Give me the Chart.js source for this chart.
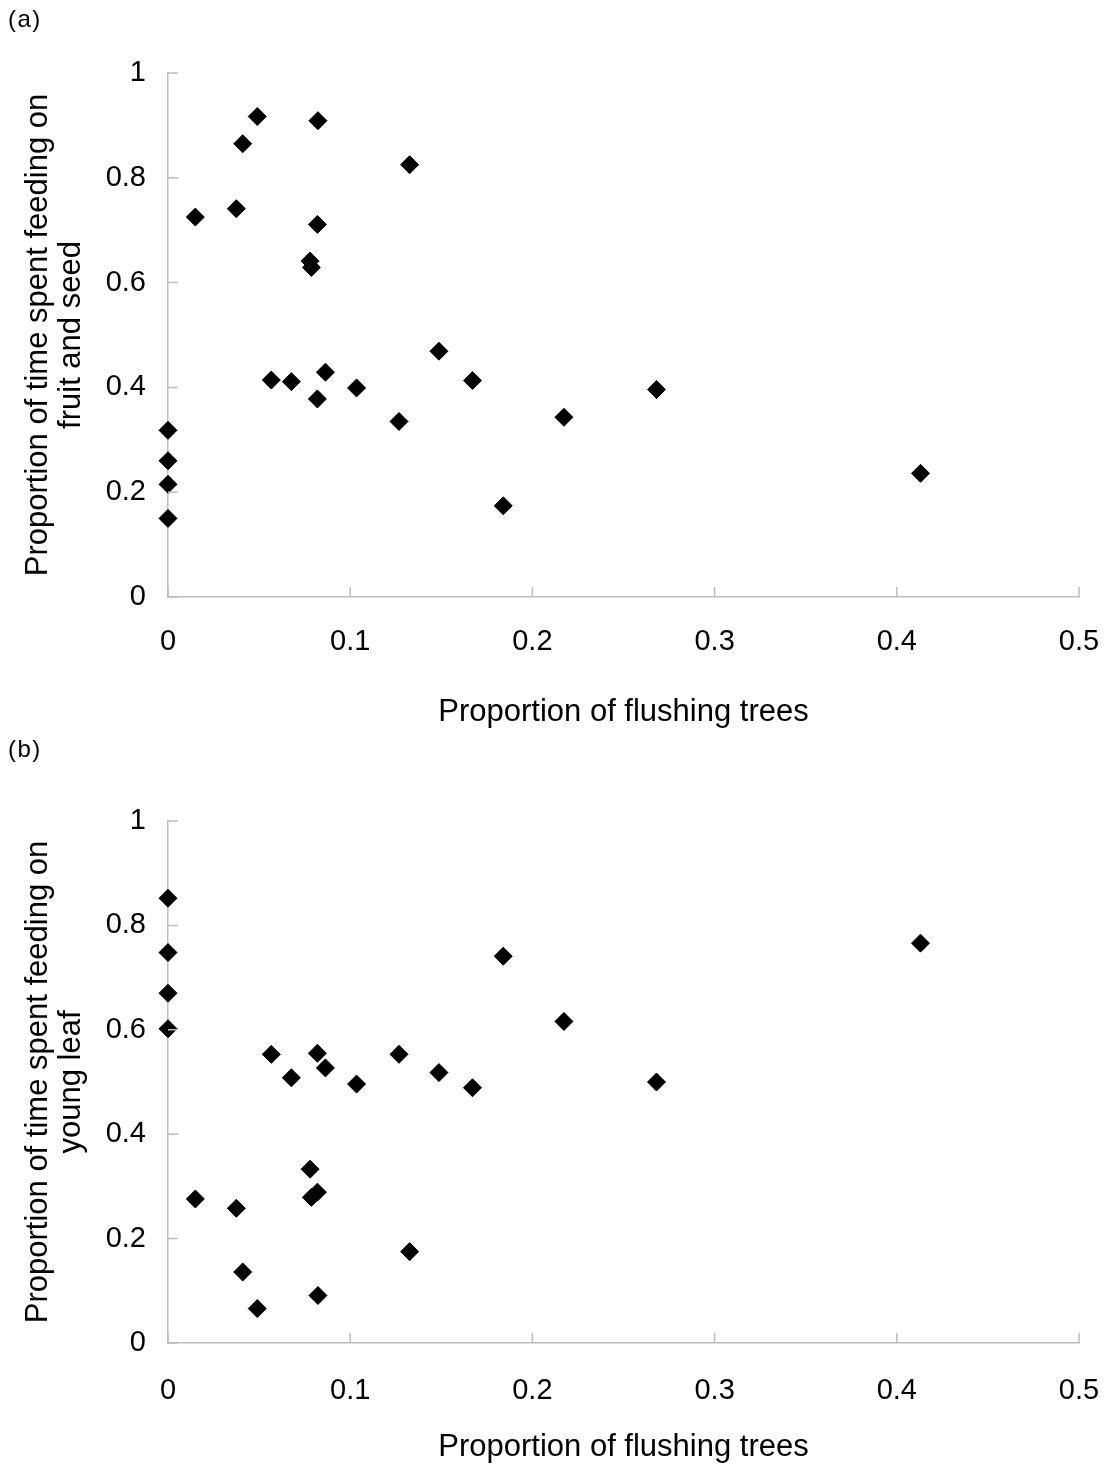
<!DOCTYPE html>
<html>
<head>
<meta charset="utf-8">
<script src="https://cdn.jsdelivr.net/npm/chart.js@4"></script>
<style>
  html, body { margin: 0; padding: 0; overflow: hidden; background: #fff; font-family: "Liberation Sans", Arial, sans-serif; }
  .panel { position: relative; width: 1110px; height: 735px; }
  .panel canvas { display: block; }
  .tag { position: absolute; left: 8px; font-size: 24px; letter-spacing: 1.5px; color: #000; }
</style>
</head>
<body>
<div class="panel">
  <div class="tag" style="top: 5px;">(a)</div>
  <canvas id="chartA" width="1110" height="735"></canvas>
</div>
<div class="panel">
  <div class="tag" style="top: 0px;">(b)</div>
  <canvas id="chartB" width="1110" height="735"></canvas>
</div>
<script>
// proportion of flushing trees (shared by both panels)
const flushingTrees = [
  0, 0, 0, 0, 0.015, 0.0375, 0.041, 0.049, 0.0567, 0.0677, 0.078, 0.0787,
  0.082, 0.082, 0.0823, 0.0864, 0.1035, 0.1268, 0.1326, 0.1487, 0.1671,
  0.184, 0.2173, 0.2681, 0.413,
];
// (a) proportion of time feeding on fruit and seed
const fruitSeed = [
  0.318, 0.26, 0.215, 0.15, 0.725, 0.741, 0.865, 0.917, 0.414, 0.411, 0.641,
  0.629, 0.378, 0.711, 0.909, 0.429, 0.399, 0.335, 0.825, 0.469, 0.413,
  0.174, 0.343, 0.396, 0.236,
];
// (b) proportion of time feeding on young leaf
const youngLeaf = [
  0.602, 0.67, 0.748, 0.852, 0.276, 0.258, 0.136, 0.066, 0.553, 0.508, 0.333,
  0.279, 0.555, 0.289, 0.091, 0.527, 0.496, 0.553, 0.175, 0.518, 0.489,
  0.741, 0.616, 0.5, 0.766,
];
const xTicks = [0, 0.1, 0.2, 0.3, 0.4, 0.5];
const xTickLabels = ["0", "0.1", "0.2", "0.3", "0.4", "0.5"];
const yTicks = [0, 0.2, 0.4, 0.6, 0.8, 1];
const yTickLabels = ["0", "0.2", "0.4", "0.6", "0.8", "1"];

const axisGrey = "#bdbdbd";
const fontFamily = "'Liberation Sans', Arial, sans-serif";

// Excel-style short tick marks pointing into the plot
const innerTicks = {
  id: "innerTicks",
  afterDraw(chart) {
    const ctx = chart.ctx;
    const area = chart.chartArea;
    const xs = chart.scales.x;
    const ys = chart.scales.y;
    ctx.save();
    ctx.strokeStyle = axisGrey;
    ctx.lineWidth = 1.5;
    ctx.beginPath();
    xs.ticks.forEach((t) => {
      const px = xs.getPixelForValue(t.value);
      ctx.moveTo(px, area.bottom);
      ctx.lineTo(px, area.bottom - 10);
    });
    ys.ticks.forEach((t) => {
      const py = ys.getPixelForValue(t.value);
      ctx.moveTo(area.left, py);
      ctx.lineTo(area.left + 10, py);
    });
    ctx.stroke();
    ctx.restore();
  },
};

function makePanel(canvasId, yValues, yTitle, top, xAxisHeight, xGap) {
  const points = [];
  for (let i = 0; i < flushingTrees.length; i++) {
    points.push({ x: flushingTrees[i], y: yValues[i] });
  }

  const config = {
    type: "scatter",
    data: {
      datasets: [
        {
          data: points,
          pointStyle: "rectRot",
          pointRadius: 9,
          pointHoverRadius: 9,
          backgroundColor: "#000",
          borderColor: "#000",
          borderWidth: 1,
          clip: false,
        },
      ],
    },
    options: {
      responsive: false,
      animation: false,
      devicePixelRatio: 1,
      layout: { padding: { left: 0, right: 31, top: top, bottom: 0 } },
      plugins: { legend: { display: false }, tooltip: { enabled: false } },
      scales: {
        x: {
          type: "linear",
          min: 0,
          max: 0.5,
          afterBuildTicks: (scale) => {
            scale.ticks = xTicks.map((v) => ({ value: v }));
          },
          afterFit: (scale) => {
            scale.height = xAxisHeight;
          },
          // tick marks are hidden; tickLength only spaces the labels
          grid: { display: false, drawTicks: true, tickLength: xGap },
          border: { display: true, color: axisGrey, width: 1.5 },
          ticks: {
            autoSkip: false,
            maxRotation: 0,
            padding: 0,
            color: "#000",
            font: { family: fontFamily, size: 29 },
            callback: (value, i) => xTickLabels[i],
          },
          title: {
            display: true,
            text: "Proportion of flushing trees",
            color: "#000",
            font: { family: fontFamily, size: 31, lineHeight: 1.07 },
            padding: { top: 0, bottom: 5.5 },
          },
        },
        y: {
          type: "linear",
          min: 0,
          max: 1,
          afterBuildTicks: (scale) => {
            scale.ticks = yTicks.map((v) => ({ value: v }));
          },
          afterFit: (scale) => {
            scale.width = 168;
          },
          grid: { display: false, drawTicks: true, tickLength: 22 },
          border: { display: true, color: axisGrey, width: 1.5 },
          ticks: {
            padding: 0,
            color: "#000",
            font: { family: fontFamily, size: 29 },
            callback: (value, i) => yTickLabels[i],
          },
          title: {
            display: true,
            text: yTitle,
            color: "#000",
            font: { family: fontFamily, size: 31, lineHeight: 1.07 },
            padding: { top: 21.5, bottom: 0 },
          },
        },
      },
    },
    plugins: [innerTicks],
  };

  new Chart(document.getElementById(canvasId), config);
}

makePanel("chartA", fruitSeed, ["Proportion of time spent feeding on", "fruit and seed"], 73, 138, 28);
makePanel("chartB", youngLeaf, ["Proportion of time spent feeding on", "young leaf"], 86, 127, 31);
</script>
</body>
</html>
